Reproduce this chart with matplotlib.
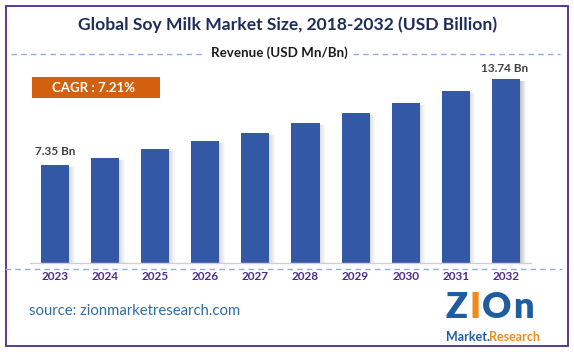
import matplotlib
matplotlib.use("Agg")
import matplotlib.pyplot as plt
from matplotlib.patches import Rectangle
from matplotlib.lines import Line2D

years = ["2023", "2024", "2025", "2026", "2027", "2028", "2029", "2030", "2031", "2032"]
values = [7.35, 7.87, 8.54, 9.13, 9.70, 10.45, 11.19, 11.93, 12.82, 13.74]
first_label = "7.35 Bn"
last_label = "13.74 Bn"
title = "Global Soy Milk Market Size, 2018-2032 (USD Billion)"
subtitle = "Revenue (USD Mn/Bn)"
cagr = "CAGR : 7.21%"
source = "source: zionmarketresearch.com"

plt.rcParams['font.family'] = ['Lato', 'DejaVu Sans']

W, H = 574, 352
fig = plt.figure(figsize=(W / 100, H / 100), dpi=100)
fig.patch.set_facecolor("white")

def fx(x):
    return x / W

def fy(y):
    return 1 - y / H

# axes in pixel coordinates
ax_left, ax_right, ax_top, ax_bot = 29.95, 530.95, 60, 263.5
ax = fig.add_axes([fx(ax_left), fy(ax_bot), (ax_right - ax_left) / W, (ax_bot - ax_top) / H])
ax.set_xlim(-0.5, 9.5)
ax.set_ylim(0, (ax_bot - ax_top) / 13.46)
ax.axis("off")

bar_color = "#3358A6"
bw = 0.56
xs = list(range(len(years)))
# shadows
for i, v in zip(xs, values):
    for k in range(6):
        ax.add_patch(Rectangle((i + bw / 2 + k * 0.02 - 0.01, 0), 0.022, v - 0.15,
                               facecolor="#7f7f7f", alpha=0.28 * (1 - k / 6), lw=0, zorder=1))
ax.bar(xs, values, width=bw, color=bar_color, zorder=2)

def xpix(i):
    return ax_left + (i + 0.5) * (ax_right - ax_left) / 10

def ypix(v):
    return ax_bot - v * 13.46

fig.text(fx(xpix(0)), fy(ypix(values[0]) - 13), first_label, ha="center", va="center",
         fontsize=8.5, fontweight="bold", color="#404040")
fig.text(fx(xpix(9) - 1.5), fy(ypix(values[-1]) - 10.5), last_label, ha="center", va="center",
         fontsize=8.5, fontweight="bold", color="#404040")

# baseline gray line
fig.add_artist(Line2D([fx(30), fx(531)], [fy(262.5), fy(262.5)], color="#d0d0d0", lw=1))
# dashed lines
dash_col = "#8FAADC"
fig.add_artist(Line2D([fx(5), fx(562)], [fy(269), fy(269)], color=dash_col, lw=1, ls=(0, (4, 3))))
fig.add_artist(Line2D([fx(11), fx(203)], [fy(53.5), fy(53.5)], color=dash_col, lw=1, ls=(0, (4, 3))))
fig.add_artist(Line2D([fx(353), fx(560)], [fy(53.5), fy(53.5)], color=dash_col, lw=1, ls=(0, (4, 3))))

# year labels
for i, y in zip(xs, years):
    fig.text(fx(xpix(i)), fy(277), y, ha="center", va="center", fontsize=8.5,
             fontweight="bold", color="#4B2C8C")

# title
fig.text(fx(288), fy(25), title, ha="center", va="center", fontsize=12.6,
         fontweight="bold", color="#1F2D5C")
fig.text(fx(279), fy(53), subtitle, ha="center", va="center", fontsize=9.6,
         fontweight="bold", color="#1a1a1a")

# CAGR box
fig.add_artist(Rectangle((fx(32), fy(97.7)), (160 - 32) / W, (97.7 - 76.7) / H,
                         facecolor="#D2600F", edgecolor="none", transform=fig.transFigure))
fig.text(fx(93.5), fy(87.5), cagr, ha="center", va="center", fontsize=9.5,
         fontweight="bold", color="white")

# source
fig.text(fx(29), fy(311), source, ha="left", va="center", fontsize=10.7, color="#2E6DA4")

# logo (text approximation)
logo_blue = "#1F5DA0"
logo_orange = "#F08A1C"
ly = 307
fig.text(fx(446), fy(ly), "Z", ha="left", va="center", fontsize=26, fontweight="heavy", color=logo_blue)
fig.text(fx(470), fy(ly), "I", ha="left", va="center", fontsize=26, fontweight="heavy", color=logo_orange)
fig.text(fx(482), fy(ly), "O", ha="left", va="center", fontsize=26, fontweight="heavy", color=logo_blue)
fig.text(fx(513), fy(ly), "n", ha="left", va="center", fontsize=26, fontweight="heavy", color=logo_blue)
fig.text(fx(446), fy(337), "Market.", ha="left", va="center", fontsize=9, fontweight="bold", color=logo_blue)
fig.text(fx(489), fy(337), "Research", ha="left", va="center", fontsize=9, fontweight="bold", color=logo_orange)

# frame
fig.add_artist(Rectangle((fx(5.5), fy(345.5)), (568 - 5.5) / W, (345.5 - 5.5) / H,
                         facecolor="none", edgecolor="#4B2C8C", lw=1.3, transform=fig.transFigure))

fig.savefig("out.png", dpi=100)
